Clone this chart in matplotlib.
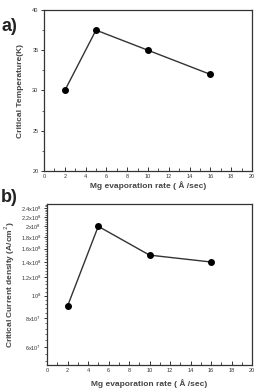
import numpy as np
import matplotlib
matplotlib.use('Agg')
from matplotlib import pyplot as plt
from matplotlib.ticker import FixedLocator, FixedFormatter, NullFormatter

rate = [2, 5, 10, 16]
tc = [30, 37.5, 35, 32]
jc = [9e7, 2.0e8, 1.5e8, 1.4e8]

jc_ticks = [6e7, 8e7, 1e8, 1.2e8, 1.4e8, 1.6e8, 1.8e8, 2.0e8, 2.2e8, 2.4e8]
jc_labels = [r'6x10$^7$', r'8x10$^7$', r'10$^8$', r'1.2x10$^8$', r'1.4x10$^8$',
             r'1.6x10$^8$', r'1.8x10$^8$', r'2x10$^8$', r'2.2x10$^8$', r'2.4x10$^8$']

plt.rcParams['font.family'] = ['Liberation Sans', 'DejaVu Sans']

fig = plt.figure(figsize=(2.56, 3.90), dpi=100)

ax1 = fig.add_axes([44/256, 1 - 171/390, 208/256, 161/390])
ax2 = fig.add_axes([47/256, 1 - 365/390, 205/256, 161/390])

line_kw = dict(color='#333333', lw=1.0, marker='o', ms=4.0,
               markerfacecolor='black', markeredgecolor='black')

ax1.plot(rate, tc, **line_kw)
ax1.set_xlim(0, 20)
ax1.set_ylim(20, 40)
ax1.set_xticks(np.arange(0, 21, 2))
ax1.set_xticks(np.arange(1, 20, 2), minor=True)
ax1.set_yticks([20, 25, 30, 35, 40])
ax1.set_yticks([22.5, 27.5, 32.5, 37.5], minor=True)
ax1.set_xlabel(u'Mg evaporation rate ( \u00c5 /sec)', fontsize=6, fontweight='bold',
               color='#444444', labelpad=1.5)
ax1.set_ylabel('Critical Temperature(K)', fontsize=6, fontweight='bold',
               color='#444444', labelpad=6)

ax2.plot(rate, jc, **line_kw)
ax2.set_yscale('log')
ax2.set_xlim(0, 20)
ax2.set_ylim(5.0e7, 2.5e8)
ax2.set_xticks(np.arange(0, 21, 2))
ax2.set_xticks(np.arange(1, 20, 2), minor=True)
ax2.yaxis.set_major_locator(FixedLocator(jc_ticks))
ax2.yaxis.set_major_formatter(FixedFormatter(jc_labels))
ax2.yaxis.set_minor_locator(FixedLocator(np.arange(5.2e7, 2.5e8, 0.4e7)))
ax2.yaxis.set_minor_formatter(NullFormatter())
ax2.set_xlabel(u'Mg evaporation rate ( \u00c5 /sec)', fontsize=6, fontweight='bold',
               color='#444444', labelpad=4.5)
ax2.set_ylabel(r'Critical Current density (A/cm$^2$)', fontsize=6, fontweight='bold',
               color='#444444', labelpad=3)

for ax in (ax1, ax2):
    for s in ax.spines.values():
        s.set_linewidth(0.9)
        s.set_color('#333333')
    ax.tick_params(axis='x', which='both', direction='in', labelsize=4, pad=2,
                   colors='#333333')
    ax.tick_params(axis='x', which='major', length=3, width=0.7)
    ax.tick_params(axis='x', which='minor', length=2, width=0.6)
    ax.tick_params(axis='y', which='both', direction='out', labelsize=4, pad=1.5,
                   colors='#333333')
    ax.tick_params(axis='y', which='major', length=2.5, width=0.7)
    ax.tick_params(axis='y', which='minor', length=1.5, width=0.5)

fig.text(1/256, 1 - 31/390, 'a)', fontsize=13, fontweight='bold', color='#222222')
fig.text(1/256, 1 - 202/390, 'b)', fontsize=13, fontweight='bold', color='#222222')

plt.savefig('out.png', dpi=100)
